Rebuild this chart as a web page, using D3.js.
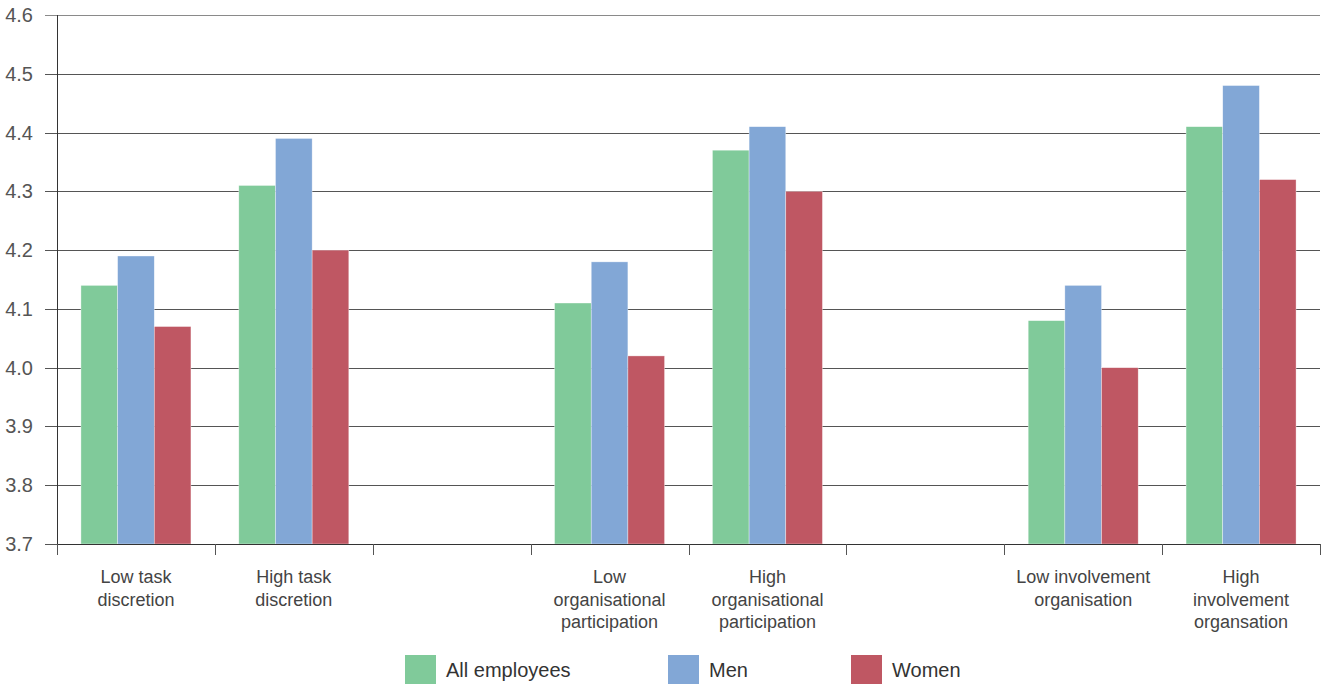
<!DOCTYPE html>
<html><head><meta charset="utf-8">
<script src="https://cdn.jsdelivr.net/npm/d3@7"></script>
<style>
html,body{margin:0;padding:0;background:#fff;}
svg{display:block;font-family:"Liberation Sans","Helvetica",Arial,sans-serif;}
</style></head>
<body><svg id="c" width="1327" height="684"></svg>
<script>
const categories = [
  "Low task discretion", "High task discretion", "",
  "Low organisational participation", "High organisational participation", "",
  "Low involvement organisation", "High involvement organsation"
];
const categoryLines = [
  ["Low task","discretion"], ["High task","discretion"], [],
  ["Low","organisational","participation"], ["High","organisational","participation"], [],
  ["Low involvement","organisation"], ["High","involvement","organsation"]
];
const seriesNames = ["All employees", "Men", "Women"];
const allEmployees = [4.14, 4.31, null, 4.11, 4.37, null, 4.08, 4.41];
const men          = [4.19, 4.39, null, 4.18, 4.41, null, 4.14, 4.48];
const women        = [4.07, 4.20, null, 4.02, 4.30, null, 4.00, 4.32];
const yTicks = [3.7, 3.8, 3.9, 4.0, 4.1, 4.2, 4.3, 4.4, 4.5, 4.6];
const colors = ["#80ca9a", "#82a7d6", "#bf5763"];

const svg = d3.select("#c");
const L = 57, R = 1320, T = 15, B = 544;
const x = d3.scaleBand().domain(d3.range(categories.length)).range([L, R]);
const y = d3.scaleLinear().domain([3.7, 4.6]).range([B, T]);
const inner = d3.scaleBand().domain(d3.range(3)).range([0, 110]);

// gridlines & y labels
const gy = svg.append("g");
gy.selectAll("line").data(yTicks).join("line")
  .attr("x1", L - 12).attr("x2", R)
  .attr("y1", d => Math.round(y(d)) + 0.5).attr("y2", d => Math.round(y(d)) + 0.5)
  .attr("stroke", d => d === 4.6 ? "#8a8a8a" : "#555").attr("stroke-width", 1);
gy.selectAll("text").data(yTicks).join("text")
  .attr("x", 33).attr("y", d => y(d)).attr("dy", "0.35em")
  .attr("text-anchor", "end").attr("font-size", 20).attr("fill", "#555")
  .text(d => d.toFixed(1));

// bars
const series = [allEmployees, men, women];
series.forEach((vals, si) => {
  svg.append("g").selectAll("rect")
    .data(vals.map((v, i) => ({v, i})).filter(d => d.v != null))
    .join("rect")
    .attr("x", d => x(d.i) + (x.bandwidth() - 110) / 2 + inner(si))
    .attr("width", inner.bandwidth())
    .attr("y", d => y(d.v))
    .attr("height", d => y(3.7) - y(d.v))
    .attr("fill", colors[si])
    .attr("stroke", "#fff").attr("stroke-width", 0.6).attr("stroke-opacity", 0.6);
});

// axes lines
svg.append("line").attr("x1", L + 0.5).attr("x2", L + 0.5).attr("y1", T).attr("y2", B + 10)
  .attr("stroke", "#333");
svg.append("line").attr("x1", L).attr("x2", R).attr("y1", B + 0.5).attr("y2", B + 0.5)
  .attr("stroke", "#333");
const tickXs = d3.range(categories.length + 1).map(i => i < categories.length ? x(i) : R);
svg.append("g").selectAll("line").data(tickXs).join("line")
  .attr("x1", d => Math.round(d) + 0.5).attr("x2", d => Math.round(d) + 0.5)
  .attr("y1", B).attr("y2", B + 11).attr("stroke", "#555");

// category labels
const gl = svg.append("g");
categoryLines.forEach((lines, i) => {
  const t = gl.append("text").attr("text-anchor", "middle")
    .attr("font-size", 18).attr("fill", "#444");
  lines.forEach((ln, k) => {
    t.append("tspan").attr("x", x(i) + x.bandwidth() / 2).attr("y", 583 + k * 22.5).text(ln);
  });
});

// legend
const legX = [405, 668, 851];
const lg = svg.append("g");
seriesNames.forEach((n, i) => {
  lg.append("rect").attr("x", legX[i]).attr("y", 655).attr("width", 31).attr("height", 29)
    .attr("fill", colors[i]);
  lg.append("text").attr("x", legX[i] + 41).attr("y", 670).attr("dy", "0.35em")
    .attr("font-size", 20).attr("fill", "#333").text(n);
});
</script></body></html>
